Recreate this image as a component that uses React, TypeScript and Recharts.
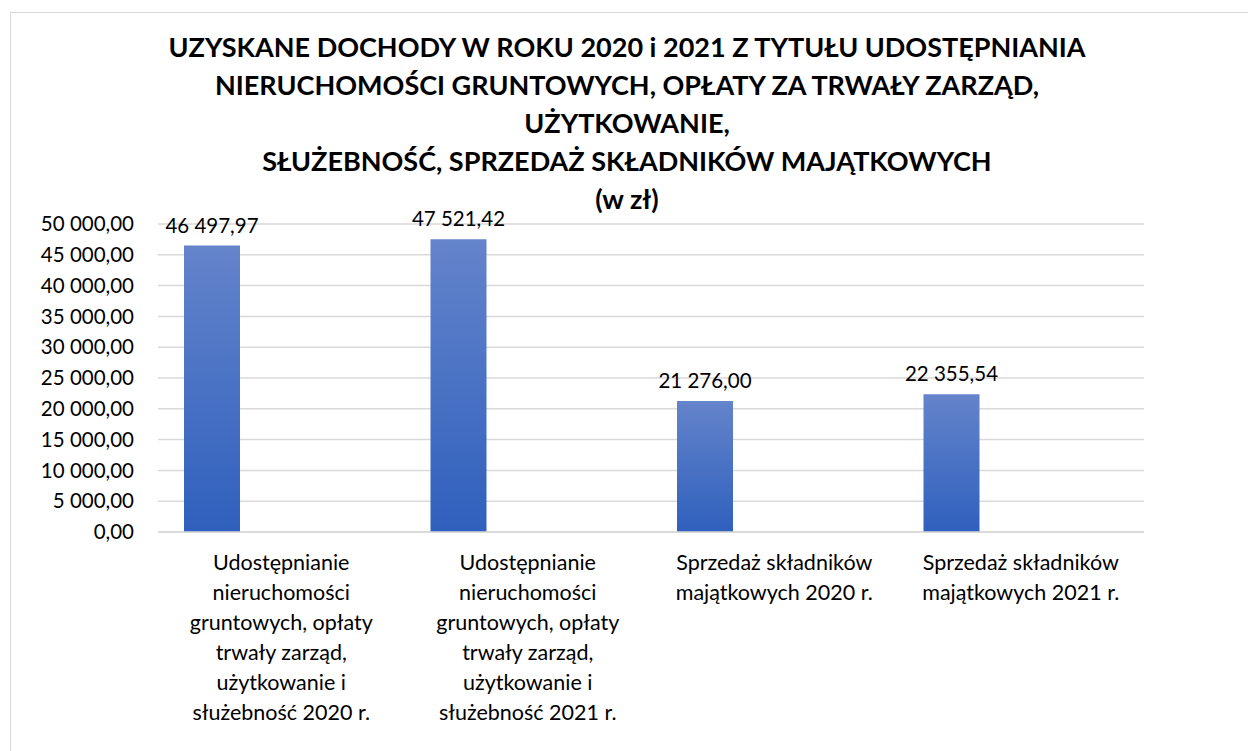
import { BarChart, Bar, XAxis, YAxis, CartesianGrid, LabelList } from 'recharts';

const titleLines = [
  'UZYSKANE DOCHODY W ROKU 2020 i 2021 Z TYTUŁU UDOSTĘPNIANIA',
  'NIERUCHOMOŚCI GRUNTOWYCH, OPŁATY ZA TRWAŁY ZARZĄD,',
  'UŻYTKOWANIE,',
  'SŁUŻEBNOŚĆ, SPRZEDAŻ SKŁADNIKÓW MAJĄTKOWYCH',
  '(w zł)',
];

const categories = [
  'Udostępnianie\nnieruchomości\ngruntowych, opłaty\ntrwały zarząd,\nużytkowanie i\nsłużebność 2020 r.',
  'Udostępnianie\nnieruchomości\ngruntowych, opłaty\ntrwały zarząd,\nużytkowanie i\nsłużebność 2021 r.',
  'Sprzedaż składników\nmajątkowych 2020 r.',
  'Sprzedaż składników\nmajątkowych 2021 r.',
];

const values = [46497.97, 47521.42, 21276.0, 22355.54];
// second (empty) series from the source sheet, keeps the bars on the left of each slot
const emptySeries = [null, null, null, null];

const yTicks = [0, 5000, 10000, 15000, 20000, 25000, 30000, 35000, 40000, 45000, 50000];

const data = categories.map((name, i) => ({ name, value: values[i], empty: emptySeries[i] }));

const FONT = 'Lato, "Noto Sans", sans-serif';

const fmt = (v: number) => {
  const [int, dec] = Number(v).toFixed(2).split('.');
  return int.replace(/\B(?=(\d{3})+(?!\d))/g, ' ') + ',' + dec;
};

function CategoryTick({ x, y, payload }: any) {
  const lines = String(payload.value).split('\n');
  return (
    <text x={x} y={y} textAnchor="middle" fontSize={21.5} fill="#000" fontFamily={FONT}>
      {lines.map((line, i) => (
        <tspan key={i} x={x} y={y + 38 + i * 30}>
          {line}
        </tspan>
      ))}
    </text>
  );
}

function ValueLabel({ x, y, width, value }: any) {
  return (
    <text x={x + width / 2} y={y - 13} textAnchor="middle" fontSize={20.5} fill="#000" fontFamily={FONT}>
      {fmt(value)}
    </text>
  );
}

export default function App() {
  return (
    <div style={{ position: 'absolute', left: 0, top: 0, width: 1248, height: 751, overflow: 'hidden', background: '#fff' }}>
      <div
        style={{
          position: 'absolute',
          left: 10,
          top: 12,
          width: 1300,
          height: 800,
          border: '1px solid #d9d9d9',
        }}
      />
      <BarChart
        width={1248}
        height={751}
        data={data}
        margin={{ top: 224, right: 104, left: 0, bottom: 189 }}
        barGap={83}
        style={{ position: 'absolute', left: 0, top: 0 }}
      >
        <defs>
          <linearGradient id="barFill" x1="0" y1="0" x2="0" y2="1">
            <stop offset="0%" stopColor="#6484cb" />
            <stop offset="100%" stopColor="#2f60bd" />
          </linearGradient>
        </defs>
        <CartesianGrid vertical={false} stroke="#d9d9d9" strokeWidth={1.5} />
        <XAxis
          dataKey="name"
          height={30}
          interval={0}
          tickLine={false}
          tickSize={0}
          tickMargin={0}
          axisLine={{ stroke: '#d9d9d9', strokeWidth: 1.5 }}
          tick={<CategoryTick />}
        />
        <YAxis
          width={158}
          domain={[0, 50000]}
          ticks={yTicks}
          interval={0}
          tickLine={false}
          axisLine={false}
          tickSize={0}
          tickMargin={24}
          tickFormatter={fmt}
          tick={{ fill: '#000', fontSize: 20.5, fontFamily: FONT }}
        />
        <Bar dataKey="value" barSize={56} fill="url(#barFill)" isAnimationActive={false}>
          <LabelList dataKey="value" content={<ValueLabel />} />
        </Bar>
        <Bar dataKey="empty" barSize={56} fill="#ed7d31" isAnimationActive={false} />
      </BarChart>
      <div
        style={{
          position: 'absolute',
          left: 0,
          width: 1254,
          top: 28,
          textAlign: 'center',
          fontFamily: FONT,
          fontWeight: 'bold',
          fontSize: 27,
          lineHeight: '38px',
          color: '#000',
        }}
      >
        {titleLines.map((l, i) => (
          <div key={i}>{l}</div>
        ))}
      </div>
    </div>
  );
}
